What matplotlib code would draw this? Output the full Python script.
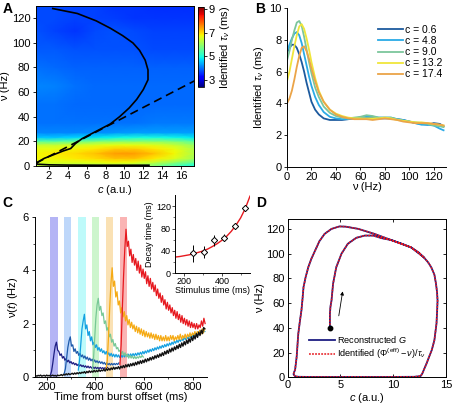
import numpy as np
import matplotlib
matplotlib.use("Agg")
import matplotlib.pyplot as plt
from matplotlib.lines import Line2D

plt.rcParams['font.family'] = ['Liberation Sans', 'DejaVu Sans']
plt.rcParams['mathtext.fontset'] = 'custom'
plt.rcParams['mathtext.rm'] = 'Liberation Sans'
plt.rcParams['mathtext.it'] = 'Liberation Sans:italic'
plt.rcParams['font.size'] = 8
plt.rcParams['xtick.labelsize'] = 8
plt.rcParams['ytick.labelsize'] = 8
plt.rcParams['axes.linewidth'] = 0.7

# ---------------- panel A: heat map of identified tau over (c, nu)
a_c = [0.6, 2.7, 4.8, 6.9, 9.0, 11.1, 13.2, 15.3, 17.4]
a_nu = [0, 3, 6, 10, 14, 17, 20, 23, 27, 35, 50, 65, 80, 95, 110, 120, 130]
a_tau = [
    [6.3, 6.3, 6.2, 6.2, 6.2, 6.1, 5.8, 5.4, 5.0],
    [6.6, 6.6, 6.6, 6.7, 6.8, 6.7, 6.4, 6.0, 5.6],
    [6.8, 6.8, 6.9, 7.0, 7.2, 7.2, 6.9, 6.6, 6.1],
    [6.8, 6.9, 7.0, 7.2, 7.45, 7.45, 7.2, 6.8, 6.2],
    [6.7, 6.7, 6.8, 6.9, 7.1, 7.1, 6.9, 6.7, 6.2],
    [6.4, 6.4, 6.5, 6.6, 6.7, 6.7, 6.6, 6.4, 6.0],
    [5.5, 5.5, 5.6, 5.8, 5.9, 5.9, 5.9, 5.8, 5.5],
    [4.6, 4.6, 4.7, 4.8, 4.9, 5.0, 5.0, 4.9, 4.8],
    [4.15, 4.15, 4.15, 4.2, 4.25, 4.3, 4.3, 4.3, 4.3],
    [4.0, 4.0, 4.0, 4.0, 4.0, 4.0, 4.05, 4.05, 4.05],
    [4.0, 4.0, 3.95, 3.95, 3.95, 3.95, 3.95, 3.95, 3.95],
    [4.15, 4.1, 4.0, 3.95, 3.95, 3.95, 3.95, 3.95, 3.95],
    [4.0, 3.95, 3.9, 3.9, 3.9, 3.9, 3.9, 3.9, 3.9],
    [3.85, 3.85, 3.8, 3.8, 3.8, 3.8, 3.75, 3.75, 3.75],
    [3.8, 3.7, 3.6, 3.75, 3.8, 3.75, 3.7, 3.7, 3.7],
    [3.75, 3.75, 3.7, 3.7, 3.65, 3.6, 3.6, 3.6, 3.6],
    [3.75, 3.75, 3.7, 3.7, 3.6, 3.6, 3.55, 3.55, 3.55],
]
# nullcline (solid) and the straight dashed line
null_c = [12.6, 10.0, 7.0, 4.0, 2.0, 0.8, 0.6, 1.5, 2.5, 3.5, 4.3, 4.8, 5.5, 6.5, 7.5, 8.5,
          9.5, 10.5, 11.3, 12.0, 12.5, 12.5, 12.2, 11.6, 10.9, 9.8, 8.5, 7.0, 5.0, 2.4]
null_nu = [0.4, 0.4, 0.4, 0.5, 0.7, 1.2, 2, 6, 9, 12, 14, 18, 22, 26, 30, 34,
           40, 47, 54, 62, 70, 78, 86, 94, 100, 106, 112, 118, 124, 128]
dash_c = [0.6, 17.4]
dash_nu = [2, 69]

# ---------------- panel B: tau vs nu for five c values
b_nu = [0, 2, 4, 6, 8, 10, 12, 14, 16, 18, 20, 23, 26, 30, 35, 40, 45, 50, 55, 60, 65,
        70, 75, 80, 85, 90, 95, 100, 105, 110, 115, 120, 125, 128]
b_labels = ['c = 0.6', 'c = 4.8', 'c = 9.0', 'c = 13.2', 'c = 17.4']
b_tau_06 = [7.2, 7.5, 7.7, 7.7, 7.5, 7.1, 6.6, 6.0, 5.3, 4.7, 4.1, 3.6, 3.3, 3.05, 2.95, 2.95,
            2.95, 3.0, 3.05, 3.1, 3.1, 3.1, 3.05, 3.05, 3.05, 3.0, 2.95, 2.85, 2.75, 2.7,
            2.65, 2.75, 2.7, 2.55]
b_tau_48 = [7.3, 7.7, 8.1, 8.4, 8.5, 8.3, 7.8, 7.1, 6.4, 5.7, 5.1, 4.4, 3.9, 3.45, 3.15, 3.05,
            3.0, 3.0, 3.05, 3.1, 3.15, 3.15, 3.1, 3.1, 3.1, 3.0, 2.95, 2.85, 2.75, 2.65,
            2.65, 2.6, 2.4, 2.3]
b_tau_90 = [6.7, 7.3, 8.0, 8.6, 9.1, 9.2, 8.9, 8.2, 7.4, 6.6, 5.9, 5.0, 4.4, 3.8, 3.4, 3.2,
            3.1, 3.05, 3.1, 3.15, 3.25, 3.2, 3.1, 3.1, 3.1, 3.0, 2.9, 2.85, 2.8, 2.75, 2.7,
            2.6, 2.55, 2.5]
b_tau_132 = [5.4, 6.0, 6.8, 7.6, 8.3, 8.85, 9.0, 8.7, 8.1, 7.4, 6.6, 5.6, 4.8, 4.1, 3.6, 3.35,
             3.2, 3.1, 3.05, 3.05, 3.05, 3.05, 3.05, 3.1, 3.05, 2.95, 2.9, 2.85, 2.8, 2.8,
             2.75, 2.7, 2.65, 2.6]
b_tau_174 = [4.0, 4.3, 4.8, 5.5, 6.3, 7.0, 7.5, 7.6, 7.3, 6.8, 6.2, 5.4, 4.7, 4.1, 3.6, 3.3,
             3.15, 3.05, 3.0, 3.0, 3.0, 2.95, 3.0, 3.05, 3.0, 2.95, 2.85, 2.8, 2.75, 2.75,
             2.75, 2.7, 2.65, 2.6]
b_colors = ['#1c5a9e', '#2aaae6', '#7cc69c', '#f0e63a', '#eba448']

# ---------------- panel C: rate traces after stimuli at different times
stim_start = [215, 272, 330, 387, 444, 501]
stim_width = 30
stim_colors = ['#b4b4f5', '#bed7fa', '#befafa', '#cdf5cd', '#fae1b4', '#fab4b4']
step = 5
black_t0 = 155
black_v = [0.04, 0.02, 0.05, 0.03, 0.06, 0.02, 0.04, 0.05, 0.02, 0.06, 0.03, 0.05, 0.02, 0.04,
           0.06, 0.03, 0.05, 0.02, 0.06, 0.04,
           0.05, 0.08, 0.04, 0.09, 0.06, 0.11, 0.07, 0.12, 0.08, 0.10, 0.13, 0.09, 0.14, 0.10,
           0.15, 0.11, 0.16, 0.12, 0.17, 0.14,
           0.19, 0.13, 0.20, 0.15, 0.22, 0.16, 0.21, 0.17, 0.24, 0.18, 0.23, 0.19, 0.26, 0.20,
           0.25, 0.22, 0.28, 0.21, 0.30, 0.24,
           0.31, 0.25, 0.33, 0.27, 0.36, 0.28, 0.35, 0.30, 0.38, 0.29, 0.40, 0.33, 0.42, 0.34,
           0.45, 0.37, 0.47, 0.38, 0.49, 0.41,
           0.51, 0.42, 0.54, 0.45, 0.57, 0.48, 0.60, 0.50, 0.62, 0.53, 0.66, 0.56, 0.68, 0.60,
           0.72, 0.63, 0.75, 0.66, 0.79, 0.70,
           0.82, 0.73, 0.86, 0.77, 0.90, 0.80, 0.95, 0.85, 0.99, 0.88, 1.04, 0.93, 1.08, 0.97,
           1.12, 1.02, 1.17, 1.06, 1.22, 1.10,
           1.27, 1.15, 1.32, 1.20, 1.38, 1.25, 1.43, 1.30, 1.50, 1.36, 1.55, 1.42, 1.62, 1.48,
           1.68, 1.55, 1.75, 1.62, 1.85, 1.80]
navy_v = [0.05, 0.2, 0.5, 0.85, 1.15, 1.3, 1.0, 0.95, 0.8, 0.86, 0.7, 0.76, 0.62, 0.68, 0.56,
          0.62, 0.52, 0.57, 0.48, 0.53, 0.45, 0.5, 0.42, 0.47, 0.4, 0.45, 0.38, 0.43, 0.36,
          0.41, 0.34, 0.4, 0.33, 0.38, 0.32, 0.37, 0.31, 0.36, 0.3, 0.35, 0.3, 0.35, 0.3,
          0.34, 0.3, 0.34, 0.31, 0.35]
blue_v = [0.12, 0.3, 0.7, 1.1, 1.35, 1.5, 1.15, 1.2, 0.95, 1.05, 0.88, 0.95, 0.8, 0.88, 0.75,
          0.82, 0.7, 0.78, 0.66, 0.74, 0.62, 0.7, 0.6, 0.66, 0.56, 0.63, 0.54, 0.6, 0.52, 0.58,
          0.5, 0.56, 0.48, 0.54, 0.46, 0.52, 0.45, 0.5, 0.44, 0.5, 0.44, 0.5, 0.45, 0.5, 0.46,
          0.52]
lblue_v = [0.25, 0.6, 1.2, 1.8, 2.1, 2.35, 1.8, 1.95, 1.55, 1.7, 1.35, 1.5, 1.2, 1.3, 1.1, 1.2,
           1.0, 1.1, 0.95, 1.05, 0.9, 0.98, 0.85, 0.95, 0.82, 0.9, 0.78, 0.88, 0.76, 0.85, 0.74,
           0.84, 0.74, 0.82, 0.72, 0.82, 0.73, 0.83, 0.74, 0.84, 0.75, 0.85, 0.76, 0.86, 0.77,
           0.87, 0.78, 0.88, 0.8, 0.9, 0.82, 0.92, 0.84, 0.95, 0.86, 0.97, 0.89, 1.0, 0.92,
           1.03, 0.95, 1.06, 0.98, 1.09, 1.01, 1.12, 1.04, 1.15, 1.07, 1.18, 1.1, 1.21, 1.13,
           1.24, 1.16, 1.27, 1.19, 1.3, 1.22, 1.34, 1.26, 1.37, 1.29, 1.4, 1.33, 1.44, 1.36,
           1.47, 1.4, 1.51, 1.43, 1.54, 1.47, 1.58, 1.5, 1.61, 1.54, 1.65, 1.57, 1.68, 1.6,
           1.71, 1.64, 1.75, 1.7]
green_v = [0.2, 0.6, 1.4, 2.2, 2.7, 2.95, 2.5, 2.65, 2.3, 2.4, 2.0, 2.1, 1.75, 1.85, 1.5, 1.6,
           1.3, 1.4, 1.15, 1.25, 1.05, 1.1, 0.95, 1.0, 0.85, 0.95, 0.8, 0.9, 0.75, 0.85, 0.7,
           0.8, 0.7, 0.78, 0.68, 0.76, 0.68, 0.75, 0.7, 0.78, 0.72, 0.8, 0.74]
orange_v = [0.3, 0.6, 1.5, 2.6, 3.5, 4.1, 3.4, 3.6, 3.0, 3.2, 2.7, 2.85, 2.4, 2.6, 2.25, 2.45,
            2.1, 2.3, 1.95, 2.15, 1.85, 2.05, 1.8, 1.95, 1.7, 1.9, 1.65, 1.85, 1.6, 1.8, 1.55,
            1.75, 1.5, 1.7, 1.5, 1.65, 1.45, 1.65, 1.45, 1.6, 1.4, 1.6, 1.4, 1.55, 1.35, 1.55,
            1.35, 1.5, 1.35, 1.55, 1.35, 1.5, 1.35, 1.55, 1.4, 1.55, 1.35, 1.5, 1.4, 1.55, 1.4,
            1.6, 1.4, 1.55, 1.45, 1.6, 1.45, 1.6, 1.5, 1.65, 1.5, 1.65, 1.55, 1.7, 1.55, 1.7,
            1.6, 1.75, 1.6, 1.8, 1.65, 1.8]
red_v = [0.45, 1.2, 2.6, 3.8, 4.8, 5.55, 4.9, 5.1, 4.55, 4.8, 4.3, 4.6, 4.2, 4.45, 4.0, 4.35,
         3.9, 4.2, 3.75, 4.05, 3.7, 3.95, 3.5, 3.8, 3.4, 3.7, 3.3, 3.55, 3.2, 3.45, 3.05, 3.3,
         2.95, 3.15, 2.8, 3.05, 2.7, 2.9, 2.55, 2.8, 2.5, 2.7, 2.4, 2.6, 2.3, 2.5, 2.2, 2.45,
         2.15, 2.35, 2.05, 2.3, 2.0, 2.2, 1.95, 2.15, 1.9, 2.1, 1.85, 2.05, 1.85, 2.0, 1.8,
         2.0, 1.8, 1.95, 1.85, 2.1, 1.9, 2.2, 2.0]
trace_colors = ['#1e1e82', '#1e5aaa', '#14a0e1', '#78c896', '#f5aa14', '#e6191f']

# inset: decay time vs stimulus time
inset_t = [245, 305, 358, 413, 470, 525]
inset_decay = [36, 37.5, 58.7, 63.6, 84.7, 117]
inset_err = [15, 11, 10, 6.5, 6, 6]
fit_t = [150, 175, 200, 225, 250, 275, 300, 325, 350, 375, 400, 425, 450, 475, 500, 525, 550]
fit_decay = [29, 30, 31.5, 33, 35, 37.5, 40, 43.5, 48, 53, 59, 66, 75, 86, 99, 116, 138]

# ---------------- panel D: trajectory in (c, nu) plane
d_c = [4.0, 4.0, 4.05, 4.15, 4.3, 4.6, 5.1, 5.7, 6.5, 7.3, 8.1, 8.9, 9.8, 10.8, 11.7, 12.4,
       12.9, 13.3, 13.6, 13.9, 14.05, 14.15, 14.2, 14.15, 14.1, 13.9, 13.65, 13.4, 13.15,
       12.9, 12.75, 12.6, 12.0, 10.0, 8.0, 6.0, 4.0, 2.0, 1.0, 0.7, 0.55, 0.6, 0.7, 0.85,
       1.0, 1.15, 1.3, 1.4, 1.5, 1.7, 1.95, 2.25, 2.6, 3.0, 3.5, 4.15, 4.9, 5.5, 6.7, 8.2,
       9.8, 11.7, 12.9]
d_nu = [40, 51.5, 57, 62, 75.7, 89, 100, 108, 112.8, 114.6, 114.6, 112.5, 111, 108, 105, 101,
        97, 93, 89, 83, 75.7, 69, 62, 52, 43.5, 30, 22, 16.6, 11, 6, 3, 1, 0.4, 0.3, 0.3,
        0.3, 0.3, 0.3, 0.4, 0.8, 2.5, 4, 6, 16.6, 35, 45, 54, 63, 73, 81, 89, 96, 102.5,
        110, 116, 120, 122, 121.8, 120, 116, 111, 105, 97]
d_start = (4.0, 40)
d_arrow = [(4.8, 47.5), (5.25, 71.7)]

W, H = 454, 405
fig = plt.figure(figsize=(W / 100, H / 100), dpi=100)


def box(l, t, r, b):
    return [l / W, 1 - b / H, (r - l) / W, (b - t) / H]


# A
axA = fig.add_axes(box(35.8, 6.1, 194.2, 165.7))
cc, nn = np.meshgrid(a_c, a_nu)
axA.pcolormesh(cc, nn, np.array(a_tau), shading='gouraud', cmap='jet', vmin=2.4, vmax=9.2)
axA.plot(null_c, null_nu, color='k', lw=1.2)
axA.plot(dash_c, dash_nu, color='k', lw=1.2, dashes=(5, 3))
axA.set_xlim(0.6, 17.4)
axA.set_ylim(0, 130)
axA.set_xticks(range(2, 17, 2))
axA.set_yticks(range(0, 121, 20))
axA.tick_params(length=2.5, width=0.6, pad=1.5)
axA.set_xlabel(r'$c$ (a.u.)', labelpad=1)
axA.set_ylabel('ν (Hz)', labelpad=1)

cax = fig.add_axes(box(198, 7, 204, 87))
cb = fig.colorbar(plt.cm.ScalarMappable(norm=plt.Normalize(2.4, 9.2), cmap='jet'), cax=cax)
cb.set_ticks([3, 5, 7, 9])
cb.ax.tick_params(length=2, width=0.6, pad=1.5)
cb.outline.set_linewidth(0.6)
cb.set_label(r'Identified $\tau_\nu$ (ms)', labelpad=2)

# B
axB = fig.add_axes(box(287, 8.3, 446, 166.7))
for vals, lab, col in zip([b_tau_06, b_tau_48, b_tau_90, b_tau_132, b_tau_174], b_labels, b_colors):
    axB.plot(b_nu, vals, color=col, lw=1.3, label=lab)
axB.set_xlim(0, 130)
axB.set_ylim(0, 10)
axB.set_xticks(range(0, 121, 20))
axB.set_yticks(range(0, 11, 2))
axB.spines[['top', 'right']].set_visible(False)
axB.tick_params(length=2.5, width=0.6, pad=1.5)
axB.set_xlabel('ν (Hz)', labelpad=0)
axB.set_ylabel(r'Identified $\tau_\nu$ (ms)', labelpad=2)
axB.legend(loc='upper right', bbox_to_anchor=(1.02, 0.94), frameon=False, fontsize=7.5,
           handlelength=2.4, handletextpad=0.15, labelspacing=0.1, borderpad=0.2)

# C
axC = fig.add_axes(box(34.5, 217.3, 207.3, 376.7))
for s, col in zip(stim_start, stim_colors):
    axC.axvspan(s, s + stim_width, color=col, lw=0, zorder=0)
trace_vals = [navy_v, blue_v, lblue_v, green_v, orange_v, red_v]
for t0, vals, col in zip(stim_start, trace_vals, trace_colors):
    t = t0 + step * np.arange(len(vals))
    axC.plot(t, vals, color=col, lw=0.9)
tb = black_t0 + step * np.arange(len(black_v))
axC.plot(tb, black_v, color='#111111', lw=1.0)
axC.set_xlim(150, 860)
axC.set_ylim(0, 6)
axC.set_xticks([200, 400, 600, 800])
axC.set_xticks([300, 500, 700], minor=True)
axC.set_yticks([0, 2, 4, 6])
axC.set_yticks([1, 3, 5], minor=True)
axC.spines[['top', 'right']].set_visible(False)
axC.tick_params(length=2.5, width=0.6, pad=1.5)
axC.tick_params(which='minor', length=1.5, width=0.5)
axC.set_xlabel('Time from burst offset (ms)', labelpad=0)
axC.set_ylabel(r'ν($\mathit{t}$) (Hz)', labelpad=2)

axI = fig.add_axes(box(175, 195, 250, 273.3))
axI.patch.set_alpha(0)
axI.plot(fit_t, fit_decay, color='#e6191f', lw=1.0)
axI.errorbar(inset_t, inset_decay, yerr=inset_err, fmt='D', ms=3.2, mfc='white', mec='k',
             mew=0.7, ecolor='k', elinewidth=0.7, capsize=0)
axI.set_xlim(150, 550)
axI.set_ylim(0, 140)
axI.set_xticks([200, 400])
axI.set_xticks([300, 500], minor=True)
axI.set_yticks([0, 40, 80, 120])
axI.set_yticks([20, 60, 100], minor=True)
axI.spines[['top', 'right']].set_visible(False)
axI.tick_params(labelsize=6.5, length=2, width=0.5, pad=1)
axI.tick_params(which='minor', length=1.2, width=0.4)
axI.set_xlabel('Stimulus time (ms)', fontsize=6.5, labelpad=0)
axI.set_ylabel('Decay time (ms)', fontsize=6.5, labelpad=1)

# D
axD = fig.add_axes(box(287.7, 219, 446, 377.3))
axD.plot(d_c, d_nu, color='#1e1e82', lw=1.3)
axD.plot(d_c, d_nu, color='#e6191f', lw=1.1, ls=(0, (1.2, 0.8)))
axD.plot(*d_start, 'o', color='k', ms=3.2)
axD.annotate('', xy=d_arrow[1], xytext=d_arrow[0],
             arrowprops=dict(arrowstyle='-|>', color='k', lw=0.6, mutation_scale=5))
axD.set_xlim(0, 15)
axD.set_ylim(0, 128)
axD.set_xticks([0, 5, 10, 15])
axD.set_yticks(range(0, 121, 20))
axD.tick_params(direction='in', top=True, right=True, length=2.5, width=0.6, pad=2)
axD.set_xlabel(r'$c$ (a.u.)', labelpad=1)
axD.set_ylabel('ν (Hz)', labelpad=1)
hD = [Line2D([], [], color='#1e1e82', lw=1.3),
      Line2D([], [], color='#e6191f', lw=1.1, ls=(0, (1.2, 0.8)))]
axD.legend(hD, [r'Reconstructed $\mathit{G}$',
                r'Identified ($\Phi^{(\mathrm{eff})} - \nu$)/$\tau_\nu$'],
           loc='lower left', bbox_to_anchor=(0.1, 0.07), frameon=False, fontsize=6.6,
           handlelength=2.8, handletextpad=0.3, labelspacing=0.15, borderpad=0.1)

for lab, x, y in [('A', 7.5, 9), ('B', 260, 9), ('C', 7.5, 203), ('D', 261, 203)]:
    fig.text(x / W, 1 - y / H, lab, fontsize=10, fontweight='bold', ha='center', va='center')

fig.savefig('out.png', dpi=100)
